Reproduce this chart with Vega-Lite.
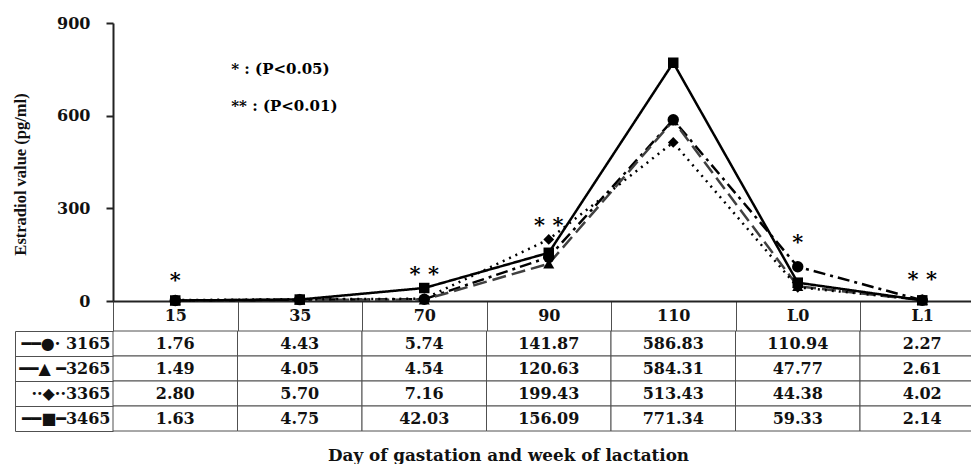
{
  "$schema": "https://vega.github.io/schema/vega-lite/v6.json",
  "width": 858,
  "height": 278,
  "autosize": {"type": "none"},
  "padding": {"left": 113, "top": 23, "right": 0, "bottom": 163},
  "background": "white",
  "config": {
    "view": {"stroke": null},
    "font": "DejaVu Serif",
    "axis": {"labelFont": "DejaVu Serif", "titleFont": "DejaVu Serif", "labelFontWeight": "bold", "titleFontWeight": "bold", "labelColor": "#111", "titleColor": "#111", "grid": false}
  },
  "data": {"values": [
    {"series": "3165", "day": "15", "value": 1.76},
    {"series": "3165", "day": "35", "value": 4.43},
    {"series": "3165", "day": "70", "value": 5.74},
    {"series": "3165", "day": "90", "value": 141.87},
    {"series": "3165", "day": "110", "value": 586.83},
    {"series": "3165", "day": "L0", "value": 110.94},
    {"series": "3165", "day": "L1", "value": 2.27},
    {"series": "3265", "day": "15", "value": 1.49},
    {"series": "3265", "day": "35", "value": 4.05},
    {"series": "3265", "day": "70", "value": 4.54},
    {"series": "3265", "day": "90", "value": 120.63},
    {"series": "3265", "day": "110", "value": 584.31},
    {"series": "3265", "day": "L0", "value": 47.77},
    {"series": "3265", "day": "L1", "value": 2.61},
    {"series": "3365", "day": "15", "value": 2.80},
    {"series": "3365", "day": "35", "value": 5.70},
    {"series": "3365", "day": "70", "value": 7.16},
    {"series": "3365", "day": "90", "value": 199.43},
    {"series": "3365", "day": "110", "value": 513.43},
    {"series": "3365", "day": "L0", "value": 44.38},
    {"series": "3365", "day": "L1", "value": 4.02},
    {"series": "3465", "day": "15", "value": 1.63},
    {"series": "3465", "day": "35", "value": 4.75},
    {"series": "3465", "day": "70", "value": 42.03},
    {"series": "3465", "day": "90", "value": 156.09},
    {"series": "3465", "day": "110", "value": 771.34},
    {"series": "3465", "day": "L0", "value": 59.33},
    {"series": "3465", "day": "L1", "value": 2.14}
  ]},
  "layer": [
    {
      "layer": [
        {
          "mark": {"type": "line", "strokeWidth": 2.5},
          "encoding": {
            "x": {"field": "day", "type": "ordinal", "sort": null,
              "scale": {"type": "band", "domain": ["15", "35", "70", "90", "110", "L0", "L1"], "range": [0, 871.5], "paddingInner": 0, "paddingOuter": 0},
              "axis": {"title": "Day of gastation and week of lactation", "tickBand": "extent", "tickSize": 30, "tickColor": "#505050", "tickWidth": 1, "domainColor": "#222", "domainWidth": 2, "labelAngle": 0, "labelPadding": -16, "labelBaseline": "middle", "labelFontSize": 16, "titleFontSize": 16.8, "titleX": 395, "titleY": 154, "titleBaseline": "middle"}},
            "y": {"field": "value", "type": "quantitative",
              "scale": {"domain": [0, 900], "range": [278, 0], "nice": false},
              "axis": {"title": "Estradiol value (pg/ml)", "values": [0, 300, 600, 900], "tickSize": 7, "tickWidth": 2, "tickColor": "#222", "domainColor": "#222", "domainWidth": 2, "labelPadding": 16, "labelFontSize": 16, "titleFont": "Liberation Serif", "titleFontSize": 16.5, "titleX": -93, "titleY": 151, "titleAlign": "center", "titleBaseline": "middle"}},
            "color": {"field": "series", "type": "nominal", "scale": {"domain": ["3165", "3265", "3365", "3465"], "range": ["#000000", "#404040", "#000000", "#000000"]}, "legend": null},
            "strokeDash": {"field": "series", "type": "nominal", "scale": {"domain": ["3165", "3265", "3365", "3465"], "range": [[12, 5, 3, 5], [14, 6], [2, 5], [1, 0]]}, "legend": null}
          }
        },
        {
          "mark": {"type": "point", "filled": true, "opacity": 1, "color": "black"},
          "encoding": {
            "x": {"field": "day", "type": "ordinal", "sort": null},
            "y": {"field": "value", "type": "quantitative"},
            "detail": {"field": "series", "type": "nominal"},
            "shape": {"field": "series", "type": "nominal", "scale": {"domain": ["3165", "3265", "3365", "3465"], "range": ["circle", "triangle-up", "diamond", "square"]}, "legend": null},
            "size": {"field": "series", "type": "nominal", "scale": {"domain": ["3165", "3265", "3365", "3465"], "range": [130, 110, 120, 190]}, "legend": null}
          }
        },
        {
          "data": {"values": [
            {"day": "15", "value": 78, "mark": "*"},
            {"day": "70", "value": 97, "mark": "* *"},
            {"day": "90", "value": 256, "mark": "* *"},
            {"day": "L0", "value": 200, "mark": "*"},
            {"day": "L1", "value": 81, "mark": "* *"}
          ]},
          "mark": {"type": "text", "fontSize": 21, "fontWeight": "bold", "baseline": "middle", "dy": 4, "color": "black"},
          "encoding": {
            "x": {"field": "day", "type": "ordinal", "sort": null},
            "y": {"field": "value", "type": "quantitative"},
            "text": {"field": "mark"}
          }
        },
        {
          "data": {"values": [
            {"day": "15", "value": 751, "note": "* :  (P<0.05)"},
            {"day": "15", "value": 631, "note": "** : (P<0.01)"}
          ]},
          "mark": {"type": "text", "fontSize": 15, "fontWeight": "bold", "align": "left", "baseline": "middle", "dx": 56, "color": "black"},
          "encoding": {
            "x": {"field": "day", "type": "ordinal", "sort": null},
            "y": {"field": "value", "type": "quantitative"},
            "text": {"field": "note"}
          }
        }
      ]
    },
    {
      "layer": [
        {
          "mark": {"type": "rect", "fill": "white", "stroke": "#505050", "strokeWidth": 1},
          "encoding": {
            "x": {"field": "day", "type": "ordinal", "sort": null},
            "y": {"field": "series", "type": "nominal",
              "scale": {"type": "band", "domain": ["3165", "3265", "3365", "3465"], "range": [308, 408], "paddingInner": 0, "paddingOuter": 0},
              "axis": {"title": null, "orient": "left", "offset": 98, "tickBand": "extent", "tickSize": -98, "tickColor": "#505050", "tickWidth": 1, "domainColor": "#505050", "domainWidth": 1, "labelPadding": 3, "labelAlign": "right", "labelBaseline": "middle", "labelFontSize": 16,
                "labelExpr": "datum.value == '3165' ? '━━●· 3165' : datum.value == '3265' ? '━━▲ ━3265' : datum.value == '3365' ? '··◆··3365' : datum.value == '3465' ? '━━■━3465' : ''"}}
          }
        },
        {
          "mark": {"type": "text", "fontSize": 16, "fontWeight": "bold", "baseline": "middle", "color": "#111"},
          "encoding": {
            "x": {"field": "day", "type": "ordinal", "sort": null},
            "y": {"field": "series", "type": "nominal"},
            "text": {"field": "value", "type": "quantitative", "format": ".2f"}
          }
        }
      ]
    }
  ],
  "resolve": {"scale": {"y": "independent"}}
}
